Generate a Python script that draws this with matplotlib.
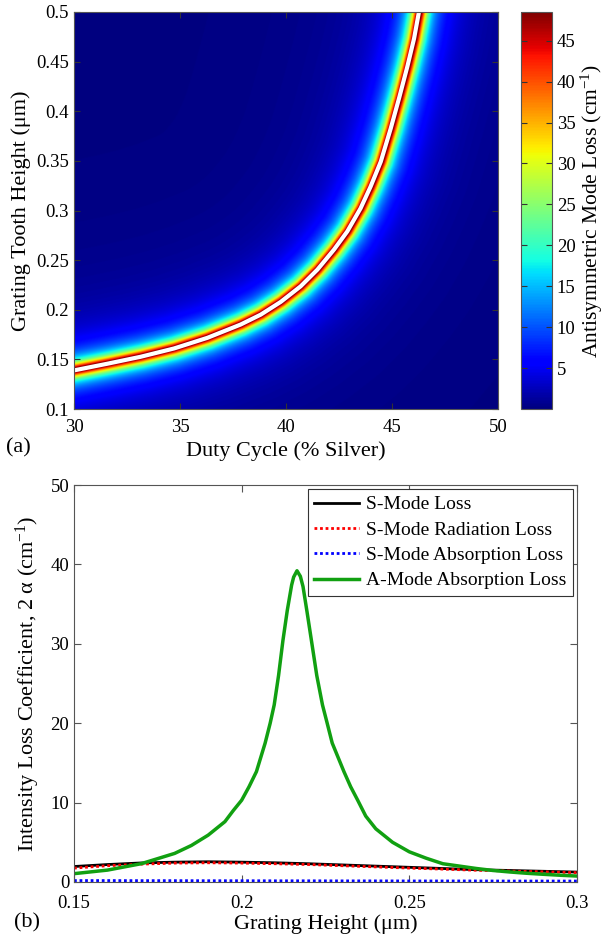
import numpy as np
import matplotlib
matplotlib.use("Agg")
import matplotlib.pyplot as plt

plt.rcParams['font.family'] = ['Liberation Serif', 'DejaVu Serif']
plt.rcParams['mathtext.fontset'] = 'custom'
plt.rcParams['mathtext.rm'] = 'Liberation Serif'
plt.rcParams['mathtext.it'] = 'Liberation Serif:italic'

# (a) resonance ridge of the antisymmetric mode loss
ridge_duty = [30.0, 31.57, 33.14, 34.72, 36.29, 37.86, 38.81, 39.75, 40.69, 41.48, 42.26,
              42.89, 43.52, 43.99, 44.47, 44.94, 45.33, 45.72, 46.04, 46.27, 46.5]
ridge_height = [0.1389, 0.1456, 0.1526, 0.1610, 0.1717, 0.1851, 0.1951, 0.2079, 0.2236, 0.2404, 0.2605,
                0.2789, 0.3023, 0.3241, 0.3492, 0.3827, 0.4129, 0.4447, 0.4732, 0.5, 0.53]
# band profile: sharp core + broad glow (peak value, half width in px)
core_peak, core_hw = 45.0, 6.5
glow_peak, glow_hw = 8.0, 28.0
cbar_ticks = [5, 10, 15, 20, 25, 30, 35, 40, 45]

# (b) loss vs grating height
s_height = [0.15, 0.16, 0.17, 0.18, 0.19, 0.20, 0.21, 0.22, 0.23, 0.24, 0.25, 0.26, 0.27, 0.28, 0.29, 0.30]
s_total = [1.95, 2.2, 2.4, 2.5, 2.55, 2.5, 2.42, 2.3, 2.15, 2.0, 1.85, 1.7, 1.55, 1.45, 1.35, 1.25]
s_radiation = [1.75, 2.05, 2.25, 2.38, 2.42, 2.38, 2.3, 2.2, 2.05, 1.9, 1.75, 1.62, 1.48, 1.38, 1.28, 1.18]
s_absorption = [0.18, 0.18, 0.17, 0.17, 0.16, 0.16, 0.15, 0.15, 0.14, 0.14, 0.13, 0.13, 0.13, 0.12, 0.12, 0.12]

a_height = [0.150, 0.160, 0.170, 0.180, 0.185, 0.190, 0.195, 0.1975, 0.200, 0.2022, 0.2044,
            0.207, 0.2085, 0.2097, 0.211, 0.2123, 0.2136, 0.2149, 0.2155, 0.2165, 0.2175,
            0.2183, 0.2195, 0.2207, 0.2224, 0.2241, 0.2255, 0.227, 0.2305, 0.2325, 0.2346,
            0.237, 0.240, 0.245, 0.250, 0.255, 0.260, 0.265, 0.270, 0.275, 0.280, 0.285,
            0.290, 0.295, 0.300]
a_absorption = [1.05, 1.5, 2.3, 3.6, 4.6, 5.9, 7.6, 9.0, 10.3, 12.0, 13.9,
                17.5, 20.0, 22.3, 26.0, 30.4, 34.2, 37.4, 38.4, 39.2, 38.5,
                37.2, 34.0, 30.7, 26.0, 22.3, 20.0, 17.5, 13.9, 12.0, 10.3,
                8.3, 6.7, 5.0, 3.8, 3.0, 2.3, 2.0, 1.7, 1.45, 1.26, 1.1,
                0.97, 0.85, 0.75]

W, H = 610, 941
fig = plt.figure(figsize=(W / 100, H / 100), dpi=100)

def box(l, t, r, b):
    return [l / W, 1 - b / H, (r - l) / W, (b - t) / H]

ax1 = fig.add_axes(box(74, 12, 498, 409))
cax = fig.add_axes(box(521, 12, 552, 409))
ax2 = fig.add_axes(box(74, 485, 577, 882))

# build the map from the distance (screen pixels) to the ridge
dd, hh = np.meshgrid(np.linspace(30, 50, 640), np.linspace(0.1, 0.5, 600))
px = (dd - 30) / 20 * 424
py = (hh - 0.1) / 0.4 * 397
rx = (np.array(ridge_duty) - 30) / 20 * 424
ry = (np.array(ridge_height) - 0.1) / 0.4 * 397
dist = np.full(px.shape, np.inf)
for i in range(len(rx) - 1):
    x0, y0 = rx[i], ry[i]
    vx, vy = rx[i + 1] - x0, ry[i + 1] - y0
    t = np.clip(((px - x0) * vx + (py - y0) * vy) / (vx * vx + vy * vy), 0, 1)
    d = np.hypot(px - (x0 + t * vx), py - (y0 + t * vy))
    dist = np.minimum(dist, d)
loss = core_peak / (1 + (dist / core_hw) ** 2) + glow_peak / (1 + (dist / glow_hw) ** 2)

im = ax1.imshow(loss, extent=[30, 50, 0.1, 0.5], origin='lower', aspect='auto',
                cmap='jet', vmin=0, vmax=48.5, interpolation='bilinear')
ax1.plot(ridge_duty, ridge_height, color='white', lw=3, solid_capstyle='round')
ax1.set_xlim(30, 50)
ax1.set_ylim(0.1, 0.5)
ax1.set_xticks([30, 35, 40, 45, 50])
ax1.set_yticks([0.1, 0.15, 0.2, 0.25, 0.3, 0.35, 0.4, 0.45, 0.5])
ax1.set_yticklabels(['0.1', '0.15', '0.2', '0.25', '0.3', '0.35', '0.4', '0.45', '0.5'])
ax1.tick_params(direction='in', top=True, right=True, labelsize=13.5, length=4, color='#333333')
ax1.tick_params(axis='x', pad=7)
ax1.set_xlabel('Duty Cycle (% Silver)', fontsize=16, labelpad=4)
ax1.set_ylabel('Grating Tooth Height (μm)', fontsize=16, labelpad=4)

cb = fig.colorbar(im, cax=cax)
cb.set_ticks(cbar_ticks)
cax.tick_params(direction='in', left=True, right=True, labelsize=13.5, length=4, color='#333333')
cb.set_label('Antisymmetric Mode Loss (cm$^{-1}$)', fontsize=15.5, labelpad=2)
cb.outline.set_edgecolor('#555555')

for sp in ax1.spines.values():
    sp.set_color('#555555')

fig.text(6 / W, 1 - 448 / H, '(a)', fontsize=16, va='center', ha='left')

# (b) line plot
ax2.plot(s_height, s_total, color='black', lw=2, label='S-Mode Loss')
ax2.plot(s_height, s_radiation, color='red', lw=2, ls=(0, (1, 1)), label='S-Mode Radiation Loss')
ax2.plot(s_height, s_absorption, color='blue', lw=2, ls=(0, (1, 1)), label='S-Mode Absorption Loss')
ax2.plot(a_height, a_absorption, color='#11a011', lw=2.5, label='A-Mode Absorption Loss')
ax2.set_xlim(0.15, 0.3)
ax2.set_ylim(0, 50)
ax2.set_xticks([0.15, 0.2, 0.25, 0.3])
ax2.set_xticklabels(['0.15', '0.2', '0.25', '0.3'])
ax2.set_yticks([0, 10, 20, 30, 40, 50])
ax2.tick_params(direction='in', top=True, right=True, labelsize=13.5, length=5, color='#555555')
ax2.tick_params(axis='x', pad=9)
ax2.set_xlabel('Grating Height (μm)', fontsize=16, labelpad=2)
ax2.set_ylabel('Intensity Loss Coefficient, 2 α (cm$^{-1}$)', fontsize=16, labelpad=6)
for sp in ax2.spines.values():
    sp.set_color('#555555')

leg = ax2.legend(loc='upper right', fontsize=14, frameon=True, fancybox=False,
                 edgecolor='#333333', framealpha=1, borderaxespad=0.2,
                 handlelength=2.3, handletextpad=0.35, labelspacing=0.4, borderpad=0.35)
leg.get_frame().set_linewidth(0.8)

fig.text(14 / W, 1 - 923 / H, '(b)', fontsize=16, va='center', ha='left')

fig.savefig('out.png', dpi=100)
